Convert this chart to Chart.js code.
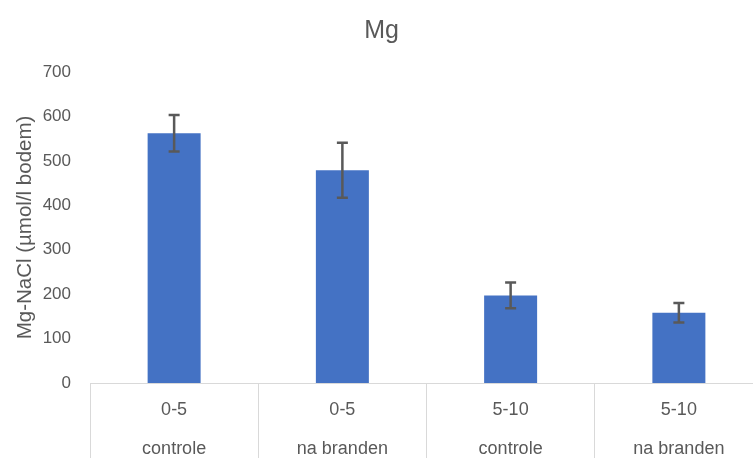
<!DOCTYPE html>
<html>
<head>
<meta charset="utf-8">
<script src="https://cdn.jsdelivr.net/npm/chart.js@4/dist/chart.umd.min.js"></script>
<style>
  html, body { margin: 0; padding: 0; background: #fff; overflow: hidden; }
  #wrap { width: 753px; height: 458px; overflow: hidden; }
</style>
</head>
<body>
<div id="wrap"><canvas id="mg_chart" width="780" height="470"></canvas></div>
<script>
// diepte + behandeling
const depths = ['0-5', '0-5', '5-10', '5-10'];
const treatments = ['controle', 'na branden', 'controle', 'na branden'];
// Mg-NaCl gemiddelden en standaardfout
const mgValues = [562, 479, 197, 158];
const mgErrors = [41, 62, 29, 22];
const yTicks = [0, 100, 200, 300, 400, 500, 600, 700];

const labels = depths.map((d, i) => [d, treatments[i]]);
const grey = '#595959';
const lineGrey = '#d9d9d9';
const font = 'Liberation Sans, Arial, sans-serif';

// foutbalken tekenen bovenop de staven
const errorBars = {
    id: 'errorBars',
    afterDatasetsDraw(chart) {
        const ctx = chart.ctx;
        const y = chart.scales.y;
        const meta = chart.getDatasetMeta(0);
        ctx.save();
        ctx.strokeStyle = grey;
        ctx.lineWidth = 2.5;
        meta.data.forEach((bar, i) => {
            const top = y.getPixelForValue(mgValues[i] + mgErrors[i]);
            const bot = y.getPixelForValue(mgValues[i] - mgErrors[i]);
            const x = bar.x;
            ctx.beginPath();
            ctx.moveTo(x, top); ctx.lineTo(x, bot);
            ctx.moveTo(x - 5.5, top); ctx.lineTo(x + 5.5, top);
            ctx.moveTo(x - 5.5, bot); ctx.lineTo(x + 5.5, bot);
            ctx.stroke();
        });
        ctx.restore();
    }
};

new Chart(document.getElementById('mg_chart'), {
    type: 'bar',
    data: {
        labels: labels,
        datasets: [{
            data: mgValues,
            backgroundColor: '#4472c4',
            borderWidth: 0,
            categoryPercentage: 1,
            barPercentage: 0.315
        }]
    },
    plugins: [errorBars],
    options: {
        responsive: false,
        animation: false,
        devicePixelRatio: 1,
        layout: { padding: { left: 0, right: 17, top: 0, bottom: 0 } },
        plugins: {
            legend: { display: false },
            tooltip: { enabled: false },
            title: {
                display: true,
                text: 'Mg',
                color: grey,
                font: { family: font, size: 25, weight: 'normal' },
                padding: { top: 16, bottom: 26 }
            }
        },
        scales: {
            x: {
                grid: {
                    offset: true,
                    drawOnChartArea: false,
                    color: lineGrey,
                    tickLength: 80
                },
                border: { display: true, color: lineGrey, width: 1 },
                ticks: {
                    color: grey,
                    maxRotation: 0,
                    autoSkip: false,
                    padding: -72,
                    font: { family: font, size: 18, lineHeight: 2.15 }
                },
                afterFit(scale) { scale.height = 87; }
            },
            y: {
                min: 0,
                max: 700,
                afterBuildTicks(scale) { scale.ticks = yTicks.map(v => ({ value: v })); },
                grid: { display: false, drawTicks: false },
                border: { display: false },
                ticks: {
                    color: grey,
                    padding: 19,
                    font: { family: font, size: 17 }
                },
                title: {
                    display: true,
                    text: 'Mg-NaCl (µmol/l bodem)',
                    color: grey,
                    font: { family: font, size: 20.5 },
                    padding: { top: 13, bottom: 0 }
                },
                afterFit(scale) { scale.width = 90; }
            }
        }
    }
});
</script>
</body>
</html>
